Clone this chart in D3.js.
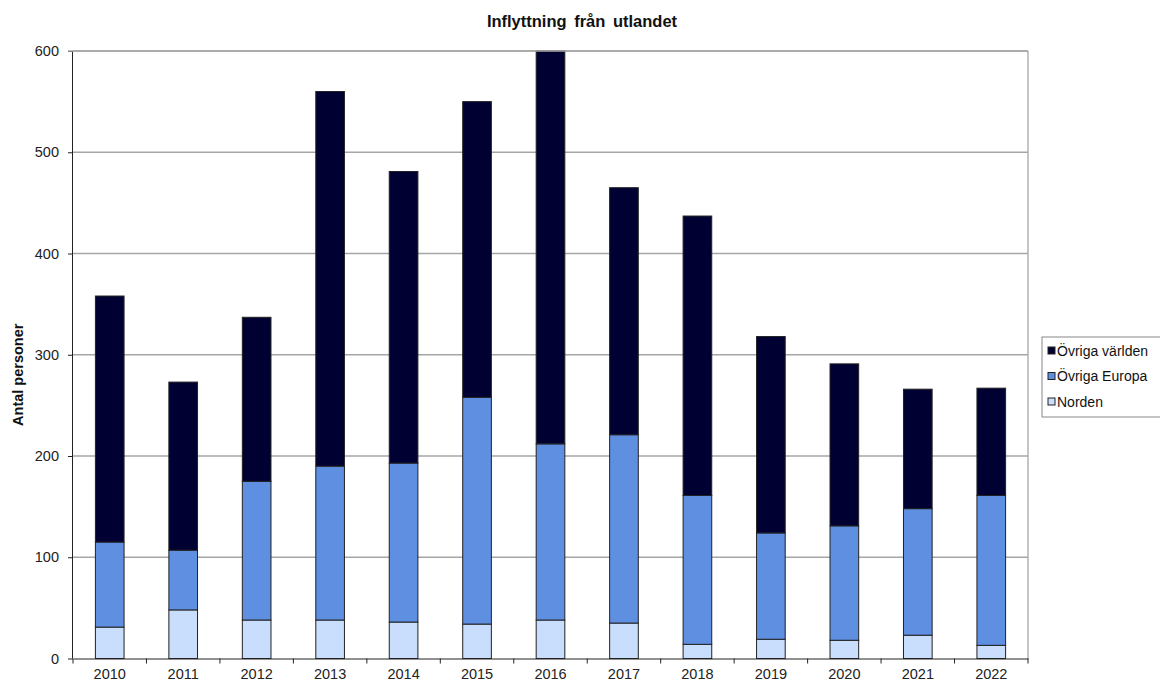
<!DOCTYPE html>
<html>
<head>
<meta charset="utf-8">
<script src="https://cdn.jsdelivr.net/npm/d3@7"></script>
<style>
  body { margin: 0; background: #fff; }
  svg { font-family: "Liberation Sans", Arial, sans-serif; }
</style>
</head>
<body>
<svg id="chart"></svg>
<script>
const years = ["2010","2011","2012","2013","2014","2015","2016","2017","2018","2019","2020","2021","2022"];
const norden = [31, 48, 38, 38, 36, 34, 38, 35, 14, 19, 18, 23, 13];
const ovrigaEuropa = [84, 59, 137, 152, 157, 224, 174, 186, 147, 105, 113, 125, 148];
const ovrigaVarlden = [243, 166, 162, 370, 288, 292, 388, 244, 276, 194, 160, 118, 106];
const seriesNames = ["Norden", "Övriga Europa", "Övriga världen"];
const yTicks = [0, 100, 200, 300, 400, 500, 600];

const width = 1160, height = 686;
const margin = { top: 51, right: 132, bottom: 27.5, left: 73 };
const innerW = width - margin.left - margin.right;
const innerH = height - margin.top - margin.bottom;
const colors = { "Norden": "#c9ddfc", "Övriga Europa": "#5f8fe1", "Övriga världen": "#000033" };

const rows = years.map((y, i) => ({
  year: y, "Norden": norden[i], "Övriga Europa": ovrigaEuropa[i], "Övriga världen": ovrigaVarlden[i]
}));
const stacked = d3.stack().keys(seriesNames)(rows);

const svg = d3.select("#chart").attr("width", width).attr("height", height);

const x = d3.scaleBand().domain(years).range([margin.left, margin.left + innerW]);
const y = d3.scaleLinear().domain([0, 600]).range([margin.top + innerH, margin.top]);

// gridlines
svg.append("g")
  .selectAll("line")
  .data(yTicks.filter(t => t > 0))
  .enter().append("line")
    .attr("x1", margin.left).attr("x2", margin.left + innerW)
    .attr("y1", d => y(d)).attr("y2", d => y(d))
    .attr("stroke", "#a6a6a6").attr("stroke-width", 1.3);

// right border
svg.append("line")
  .attr("x1", margin.left + innerW).attr("x2", margin.left + innerW)
  .attr("y1", margin.top).attr("y2", margin.top + innerH)
  .attr("stroke", "#a6a6a6").attr("stroke-width", 1.3);

// bars
const barW = x.bandwidth() * 0.39;
svg.append("g")
  .selectAll("g")
  .data(stacked)
  .enter().append("g")
    .attr("fill", d => colors[d.key])
  .selectAll("rect")
  .data(d => d)
  .enter().append("rect")
    .attr("x", d => x(d.data.year) + (x.bandwidth() - barW) / 2)
    .attr("y", d => y(d[1]))
    .attr("width", barW)
    .attr("height", d => y(d[0]) - y(d[1]))
    .attr("stroke", "#222")
    .attr("stroke-width", 1);

// y axis
const yAxis = svg.append("g")
  .attr("transform", `translate(${margin.left},0)`)
  .call(d3.axisLeft(y).tickValues(yTicks).tickSize(5).tickPadding(9));
yAxis.selectAll("text").attr("font-size", 14.5).attr("fill", "#222").attr("font-family", "Liberation Sans, Arial, sans-serif");
yAxis.selectAll("line").attr("stroke", "#222");
yAxis.select(".domain").attr("stroke", "#222").attr("d", `M-0.5,${margin.top + innerH}V${margin.top}`);

// x axis
const xAxis = svg.append("g")
  .attr("transform", `translate(0,${margin.top + innerH})`)
  .call(d3.axisBottom(x).tickSize(0).tickPadding(10));
xAxis.selectAll("text").attr("font-size", 14.5).attr("fill", "#222").attr("font-family", "Liberation Sans, Arial, sans-serif");
xAxis.select(".domain").attr("stroke", "#222");
xAxis.append("g")
  .selectAll("line")
  .data(years.concat(["end"]))
  .enter().append("line")
    .attr("x1", (d, i) => margin.left + i * x.step())
    .attr("x2", (d, i) => margin.left + i * x.step())
    .attr("y1", 0).attr("y2", 5)
    .attr("stroke", "#222");

// top border
svg.append("line")
  .attr("x1", margin.left - 5).attr("x2", margin.left + innerW)
  .attr("y1", margin.top).attr("y2", margin.top)
  .attr("stroke", "#a6a6a6").attr("stroke-width", 1.3);

// title
svg.append("text")
  .attr("x", 582).attr("y", 27)
  .attr("text-anchor", "middle")
  .attr("font-size", 16.5).attr("font-weight", "bold").attr("fill", "#111")
  .attr("word-spacing", 3)
  .text("Inflyttning från utlandet");

// y label
svg.append("text")
  .attr("transform", `translate(23,${(margin.top + margin.top + innerH) / 2 + 20}) rotate(-90)`)
  .attr("text-anchor", "middle")
  .attr("font-size", 14.5).attr("font-weight", "bold").attr("fill", "#111")
  .text("Antal personer");

// legend
const legend = svg.append("g").attr("transform", "translate(1042,337)");
legend.append("rect")
  .attr("width", 124).attr("height", 80)
  .attr("fill", "#fff").attr("stroke", "#888").attr("stroke-width", 1);
const legendItems = seriesNames.slice().reverse();
legend.selectAll("g.item")
  .data(legendItems)
  .enter().append("g")
    .attr("class", "item")
    .attr("transform", (d, i) => `translate(6,${14 + i * 25.5})`)
    .each(function(d) {
      const g = d3.select(this);
      g.append("rect").attr("x", 0).attr("y", -4).attr("width", 7).attr("height", 7)
        .attr("fill", colors[d]).attr("stroke", "#222").attr("stroke-width", 1);
      g.append("text").attr("x", 9).attr("y", 0).attr("dy", "0.35em")
        .attr("font-size", 14).attr("fill", "#111").text(d);
    });
</script>
</body>
</html>
